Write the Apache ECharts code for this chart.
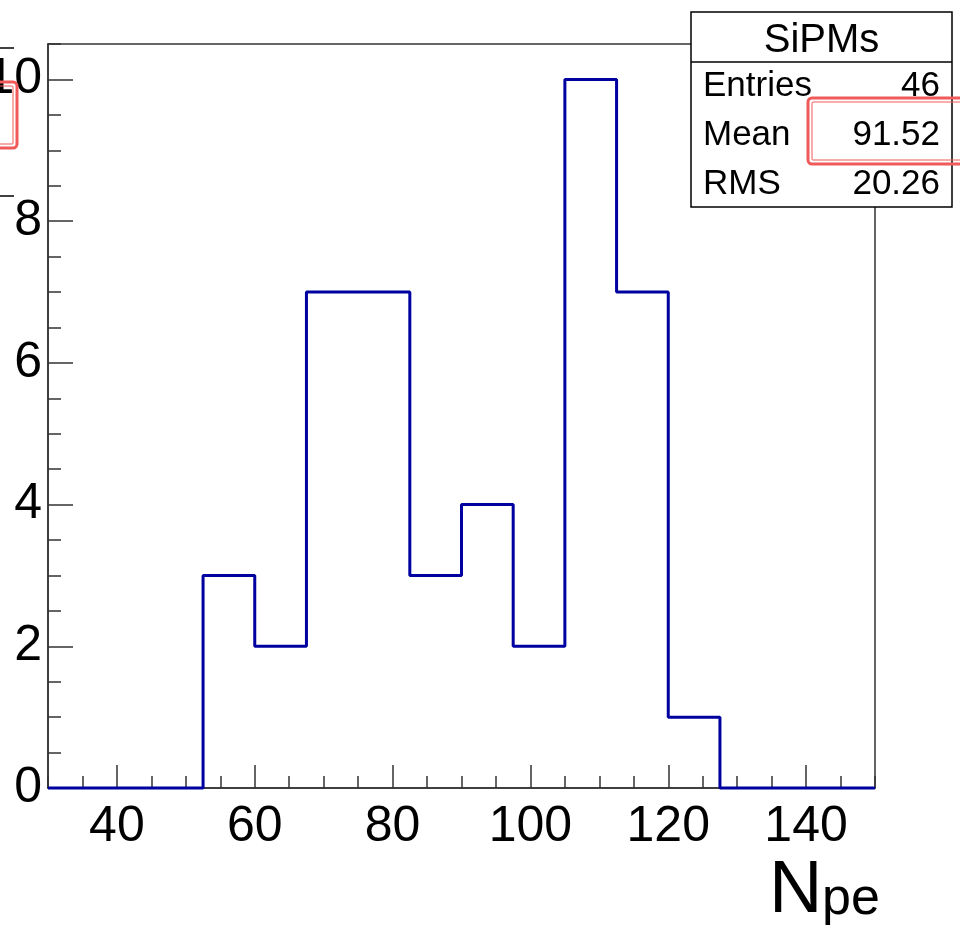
<!DOCTYPE html>
<html>
<head>
<meta charset="utf-8">
<script src="https://cdn.jsdelivr.net/npm/echarts@6/dist/echarts.min.js"></script>
<style>html,body{margin:0;padding:0;background:#fff}#c{width:960px;height:928px}</style>
</head>
<body>
<div id="c"></div>
<script>
// Histogram data (bin width 7.5 from 30 to 150)
const binEdges = [30, 37.5, 45, 52.5, 60, 67.5, 75, 82.5, 90, 97.5, 105, 112.5, 120, 127.5, 135, 142.5, 150];
const counts = [0, 0, 0, 3, 2, 7, 7, 3, 4, 2, 10, 7, 1, 0, 0, 0];
const xTicks = [40, 60, 80, 100, 120, 140];
const yTicks = [0, 2, 4, 6, 8, 10];
const statTitle = 'SiPMs';
const statNames = ['Entries', 'Mean', 'RMS'];
const statValues = ['46', '91.52', '20.26'];

const FONT = 'Liberation Sans, Arial, Helvetica, sans-serif';
const stepData = counts.map((c, i) => [binEdges[i], c]);
stepData.push([binEdges[binEdges.length - 1], counts[counts.length - 1]]);

const chart = echarts.init(document.getElementById('c'), null, {renderer: 'canvas'});
const axisCol = '#333';
const red = '#f05a5a';

const statBox = {x: 691, y: 12, w: 261, h: 195};
const rowY = [86, 135, 184];
const graphics = [
  {type: 'rect', shape: {x: statBox.x, y: statBox.y, width: statBox.w, height: statBox.h},
   style: {fill: '#fff', stroke: '#000', lineWidth: 1.5}, z: 100},
  {type: 'line', shape: {x1: statBox.x, y1: 62, x2: statBox.x + statBox.w, y2: 62},
   style: {stroke: '#000', lineWidth: 1.5}, z: 101},
  {type: 'text', x: statBox.x + statBox.w / 2, y: 41, z: 101,
   style: {text: statTitle, font: '40px ' + FONT, fill: '#000', align: 'center', verticalAlign: 'middle'}}
];
statNames.forEach((n, i) => {
  graphics.push({type: 'text', x: 703, y: rowY[i], z: 101,
    style: {text: n, font: '35px ' + FONT, fill: '#000', align: 'left', verticalAlign: 'middle'}});
  graphics.push({type: 'text', x: 940, y: rowY[i], z: 101,
    style: {text: statValues[i], font: '35px ' + FONT, fill: '#000', align: 'right', verticalAlign: 'middle'}});
});
// red highlight boxes
function redBox(x, y, w, h) {
  graphics.push({type: 'rect', shape: {x: x, y: y, width: w, height: h, r: 4},
    style: {fill: 'none', stroke: red, lineWidth: 3}, z: 110});
  graphics.push({type: 'rect', shape: {x: x + 4, y: y + 4, width: w - 8, height: h - 8, r: 1},
    style: {fill: 'none', stroke: red, lineWidth: 1}, z: 110});
}
redBox(808, 98, 160, 66);
redBox(-12, 82, 29, 66);
// partial marks at left edge
graphics.push({type: 'line', shape: {x1: 0, y1: 48, x2: 14, y2: 48}, style: {stroke: '#000', lineWidth: 1.5}, z: 101});
graphics.push({type: 'line', shape: {x1: 0, y1: 196, x2: 14, y2: 196}, style: {stroke: '#000', lineWidth: 1.5}, z: 101});
// axis title N_pe
graphics.push({type: 'text', x: 769, y: 892, z: 101,
  style: {text: 'N', font: '74px ' + FONT, fill: '#000', align: 'left', verticalAlign: 'middle'}});
graphics.push({type: 'text', x: 822, y: 900, z: 101,
  style: {text: 'pe', font: '52px ' + FONT, fill: '#000', align: 'left', verticalAlign: 'middle'}});

const gridDef = {left: 48, right: 85, top: 44, bottom: 140, containLabel: false, outerBoundsMode: 'none',
  show: true, borderColor: axisCol, borderWidth: 1.5, backgroundColor: 'transparent'};

chart.setOption({
  animation: false,
  backgroundColor: '#fff',
  grid: gridDef,
  xAxis: [
    {type: 'value', min: 30, max: 150, position: 'bottom',
     axisLine: {show: true, lineStyle: {color: axisCol, width: 1.5}},
     axisTick: {show: true, inside: true, length: 23, customValues: xTicks, lineStyle: {color: axisCol, width: 1.5}},
     axisLabel: {show: true, customValues: xTicks, fontSize: 50, fontFamily: FONT, color: '#000', margin: 14},
     splitLine: {show: false}},
    {type: 'value', min: 30, max: 150, interval: 5, position: 'bottom',
     axisLine: {show: false},
     axisTick: {show: true, inside: true, length: 12, lineStyle: {color: axisCol, width: 1.5}},
     axisLabel: {show: false}, splitLine: {show: false}}
  ],
  yAxis: [
    {type: 'value', min: 0, max: 10.5, position: 'left',
     axisLine: {show: true, lineStyle: {color: axisCol, width: 1.5}},
     axisTick: {show: true, inside: true, length: 25, customValues: yTicks, lineStyle: {color: axisCol, width: 1.5}},
     axisLabel: {show: true, customValues: yTicks, fontSize: 50, fontFamily: FONT, color: '#000', margin: 6},
     splitLine: {show: false}},
    {type: 'value', min: 0, max: 10.5, interval: 0.5, position: 'left',
     axisLine: {show: false},
     axisTick: {show: true, inside: true, length: 13, lineStyle: {color: axisCol, width: 1.5}},
     axisLabel: {show: false}, splitLine: {show: false}}
  ],
  series: [{
    type: 'line', step: 'end', data: stepData, xAxisIndex: 0, yAxisIndex: 0,
    showSymbol: false, symbol: 'none', clip: false,
    lineStyle: {color: '#0000a0', width: 3}, z: 5
  }],
  graphic: graphics
});
</script>
</body>
</html>
